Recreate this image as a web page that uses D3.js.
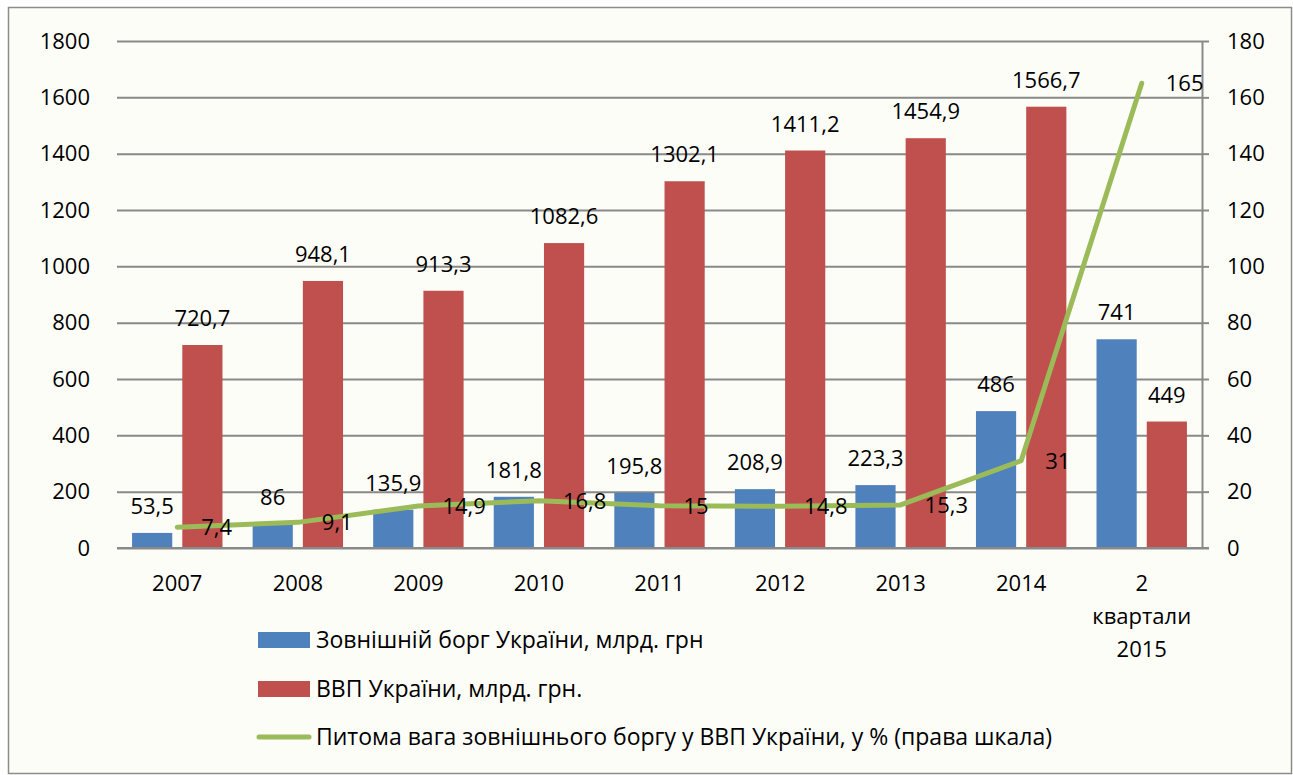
<!DOCTYPE html>
<html>
<head>
<meta charset="utf-8">
<script src="https://cdn.jsdelivr.net/npm/d3@7"></script>
<style>
  body { margin: 0; background: #fff; }
  svg text { font-family: "Open Sans", "Liberation Sans", sans-serif; fill: #000; }
</style>
</head>
<body>
<div id="chart"></div>
<script>
const width = 1293;
const height = 775;

// дані
const categories = ["2007", "2008", "2009", "2010", "2011", "2012", "2013", "2014", "2 квартали 2015"];
const categoryLines = [["2007"], ["2008"], ["2009"], ["2010"], ["2011"], ["2012"], ["2013"], ["2014"], ["2", "квартали", "2015"]];
const externalDebt = [53.5, 86, 135.9, 181.8, 195.8, 208.9, 223.3, 486, 741];
const gdp = [720.7, 948.1, 913.3, 1082.6, 1302.1, 1411.2, 1454.9, 1566.7, 449];
const debtShare = [7.4, 9.1, 14.9, 16.8, 15, 14.8, 15.3, 31, 165];
const leftTicks = [0, 200, 400, 600, 800, 1000, 1200, 1400, 1600, 1800];
const rightTicks = [0, 20, 40, 60, 80, 100, 120, 140, 160, 180];
const legendNames = [
  "Зовнішній борг України, млрд. грн",
  "ВВП України, млрд. грн.",
  "Питома вага зовнішнього боргу у ВВП України, у % (права шкала)"
];

const colors = { debt: "#4f81bd", gdp: "#c0504d", share: "#9bbb59" };
const fmt = v => String(v).replace(".", ",");

const svg = d3.select("#chart").append("svg")
  .attr("width", width)
  .attr("height", height);

// фон і рамка
svg.append("rect")
  .attr("x", 8.5).attr("y", 7.5)
  .attr("width", 1283).attr("height", 766)
  .attr("fill", "#fdfdf8")
  .attr("stroke", "#8c8c8c")
  .attr("stroke-width", 1.5);

const plot = { left: 117, right: 1202, top: 41, bottom: 548 };

const x = d3.scaleBand().domain(categories).range([plot.left, plot.right]);
const x1 = d3.scaleBand().domain(["debt", "gdp"]).range([0, x.bandwidth()])
  .paddingInner(0.2).paddingOuter(0.3);
const y = d3.scaleLinear().domain([0, 1800]).range([plot.bottom, plot.top]);
const y2 = d3.scaleLinear().domain([0, 180]).range([plot.bottom, plot.top]);

// ліва вісь з сіткою
const leftAxis = svg.append("g")
  .attr("transform", `translate(${plot.left},0)`)
  .call(d3.axisLeft(y).tickValues(leftTicks).tickFormat(d3.format("d"))
    .tickSize(-(plot.right - plot.left)).tickPadding(27));
leftAxis.select(".domain").remove();
leftAxis.selectAll(".tick line").attr("stroke", "#898989").attr("stroke-width", 2);
leftAxis.selectAll(".tick text").style("font-size", "22px");

// права вісь
const rightAxis = svg.append("g")
  .attr("transform", `translate(${plot.right},0)`)
  .call(d3.axisRight(y2).tickValues(rightTicks).tickFormat(d3.format("d"))
    .tickSize(7).tickSizeOuter(0).tickPadding(18));
rightAxis.select(".domain").attr("stroke", "#898989").attr("stroke-width", 2);
rightAxis.selectAll(".tick line").attr("stroke", "#898989").attr("stroke-width", 2);
rightAxis.selectAll(".tick text").style("font-size", "22px");

// стовпці
const groups = svg.append("g").selectAll("g")
  .data(categories)
  .join("g")
  .attr("transform", d => `translate(${x(d)},0)`);

groups.append("rect")
  .attr("x", x1("debt"))
  .attr("y", (d, i) => y(externalDebt[i]))
  .attr("width", x1.bandwidth())
  .attr("height", (d, i) => y(0) - y(externalDebt[i]))
  .attr("fill", colors.debt);

groups.append("rect")
  .attr("x", x1("gdp"))
  .attr("y", (d, i) => y(gdp[i]))
  .attr("width", x1.bandwidth())
  .attr("height", (d, i) => y(0) - y(gdp[i]))
  .attr("fill", colors.gdp);

// нульова лінія
svg.append("line")
  .attr("x1", plot.left).attr("x2", plot.right + 7)
  .attr("y1", y(0)).attr("y2", y(0))
  .attr("stroke", "#898989").attr("stroke-width", 2);

// підписи стовпців
groups.append("text")
  .attr("x", x1("debt") + x1.bandwidth() / 2)
  .attr("y", (d, i) => y(externalDebt[i]) - 19)
  .attr("text-anchor", "middle")
  .style("font-size", "22px")
  .text((d, i) => fmt(externalDebt[i]));

groups.append("text")
  .attr("x", x1("gdp") + x1.bandwidth() / 2)
  .attr("y", (d, i) => y(gdp[i]) - 19)
  .attr("text-anchor", "middle")
  .style("font-size", "22px")
  .text((d, i) => fmt(gdp[i]));

// лінія питомої ваги
const cx = d => x(d) + x.bandwidth() / 2;
const line = d3.line()
  .x((d, i) => cx(categories[i]))
  .y(d => y2(d));

svg.append("path")
  .datum(debtShare)
  .attr("d", line)
  .attr("fill", "none")
  .attr("stroke", colors.share)
  .attr("stroke-width", 5)
  .attr("stroke-linejoin", "round")
  .attr("stroke-linecap", "round");

svg.append("g").selectAll("text")
  .data(debtShare)
  .join("text")
  .attr("x", (d, i) => cx(categories[i]) + 24)
  .attr("y", d => y2(d))
  .attr("dy", "0.36em")
  .style("font-size", "22px")
  .text(d => fmt(d));

// підписи категорій
const catLabels = svg.append("g").selectAll("text")
  .data(categories)
  .join("text")
  .attr("text-anchor", "middle")
  .attr("x", d => cx(d))
  .attr("y", 591)
  .style("font-size", "22px");

catLabels.selectAll("tspan")
  .data((d, i) => categoryLines[i])
  .join("tspan")
  .attr("x", function () { return d3.select(this.parentNode).attr("x"); })
  .attr("dy", (d, i) => i === 0 ? 0 : 33)
  .text(d => d);

// легенда
const legend = svg.append("g");
const legendY = [640, 689, 737];

legend.append("rect")
  .attr("x", 258).attr("y", legendY[0] - 8)
  .attr("width", 52).attr("height", 16)
  .attr("fill", colors.debt);
legend.append("rect")
  .attr("x", 258).attr("y", legendY[1] - 8)
  .attr("width", 52).attr("height", 16)
  .attr("fill", colors.gdp);
legend.append("line")
  .attr("x1", 259).attr("x2", 309)
  .attr("y1", legendY[2]).attr("y2", legendY[2])
  .attr("stroke", colors.share)
  .attr("stroke-width", 5)
  .attr("stroke-linecap", "round");

legend.selectAll("text")
  .data(legendNames)
  .join("text")
  .attr("x", 316)
  .attr("y", (d, i) => legendY[i])
  .attr("dy", "0.36em")
  .style("font-size", "23px")
  .text(d => d);
</script>
</body>
</html>
